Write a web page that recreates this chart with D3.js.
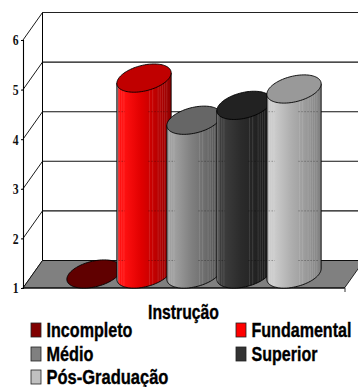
<!DOCTYPE html>
<html>
<head>
<meta charset="utf-8">
<style>
html,body{margin:0;padding:0;background:#fff}
svg{display:block}
</style>
<script src="https://cdn.jsdelivr.net/npm/d3@7"></script>
</head>
<body>
<svg id="chart" width="358" height="387"></svg>
<script>
const categories = ["Incompleto","Fundamental","Médio","Superior","Pós-Graduação"];
const values = [1, 4.95, 4.1, 4.4, 4.73];
const bodyEdge = ["#900000","#ff1010","#a0a0a0","#3c3c3c","#cccccc"];
const bodyMid = ["#700000","#e00000","#808080","#2b2b2b","#aeaeae"];
const bodyDark = ["#400000","#900000","#505050","#181818","#808080"];
const topColors = ["#600000","#c00000","#666666","#222222","#999999"];
const swatches = ["#800000","#ff0000","#808080","#333333","#c0c0c0"];
const ticks = [1,2,3,4,5,6];
const legendWidths = [86,100,47,66,122];
const stripOffsets = [.05,.09,.13,.6,.66,.76,.8,.84,.88,.92];

const svg = d3.select("#chart");
const y = d3.scaleLinear().domain([1,6]).range([288,40]);
const x = d3.scaleBand().domain(categories).range([69,319]);
const depth = {dx:19.5, dy:-27.5};
const right = 364;

// back wall gridlines and the two left edges of the 3D box
ticks.forEach(t=>{
  svg.append("line").attr("x1",23+depth.dx).attr("x2",358)
    .attr("y1",y(t)+depth.dy).attr("y2",y(t)+depth.dy)
    .attr("stroke",t===6?"#222":"#111").attr("stroke-width",1.1);
  svg.append("line").attr("x1",23).attr("x2",23+depth.dx)
    .attr("y1",y(t)).attr("y2",y(t)+depth.dy)
    .attr("stroke","#000").attr("stroke-width",0.9);
});
svg.append("line").attr("x1",23+depth.dx).attr("x2",23+depth.dx)
  .attr("y1",y(6)+depth.dy).attr("y2",y(1)+depth.dy).attr("stroke","#000").attr("stroke-width",1);

// floor
svg.append("path")
  .attr("d",d3.line()([[23,y(1)],[23+depth.dx,y(1)+depth.dy],[right,y(1)+depth.dy],[right-19.5,y(1)]])+"Z")
  .attr("fill","#808080").attr("stroke","#000").attr("stroke-width",0.8);

// value axis with tall, narrow serif numerals
const tickSqueeze = 0.78;
svg.append("g").attr("transform","translate(23,0)")
  .call(d3.axisLeft(y).tickValues(ticks).tickFormat(d3.format("d")).tickSize(2))
  .call(g=>g.select(".domain").attr("stroke","#000").attr("stroke-width",1.1))
  .call(g=>g.selectAll("text")
     .attr("x",-4.5/tickSqueeze)
     .attr("transform",`scale(${tickSqueeze},1)`)
     .attr("font-family","'Liberation Serif'").attr("font-weight","bold")
     .attr("font-size",15).attr("fill","#111"));
svg.append("line").attr("x1",23).attr("x2",345).attr("y1",y(1)).attr("y2",y(1))
  .attr("stroke","#000").attr("stroke-width",1.2);
svg.append("line").attr("x1",345).attr("x2",345).attr("y1",y(1)).attr("y2",y(1)+4)
  .attr("stroke","#333").attr("stroke-width",1);

// one horizontal gradient per series: rim, lit side, mid tone, shaded side
const defs = svg.append("defs");
categories.forEach((c,i)=>{
  const g = defs.append("linearGradient").attr("id","shade"+i);
  [[0,"#999"],[.02,"#999"],[.035,bodyEdge[i]],[.14,bodyEdge[i]],[.45,bodyMid[i]],[.7,d3.interpolateRgb(bodyMid[i],bodyDark[i])(.4)],[1,bodyDark[i]]]
    .forEach(([o,col])=>g.append("stop").attr("offset",o).attr("stop-color",col));
});

// cylinders; the end caps are ellipses tilted along the floor's slant
const rx = 27.8, ry = 12.8, tilt = -14;
const cx = c => x(c)+x.bandwidth()/2;
const capPoints = (px,py) => d3.range(0,96).map(k=>{
  const t = k/96*2*Math.PI, a = tilt*Math.PI/180;
  return [px+rx*Math.cos(t)*Math.cos(a)-ry*Math.sin(t)*Math.sin(a),
          py+rx*Math.cos(t)*Math.sin(a)+ry*Math.sin(t)*Math.cos(a)];
});
const capOffset = 14;
categories.forEach((c,i)=>{
  const px = cx(c);
  const base = y(1)-capOffset;
  const top = y(values[i])-capOffset;
  const topCap = capPoints(px,top);
  if(values[i]>1){
    // silhouette: left tangent, front arc of the base cap, right tangent
    const baseCap = capPoints(px,base);
    const iMax = d3.maxIndex(baseCap,p=>p[0]);
    const iMin = d3.minIndex(baseCap,p=>p[0]);
    const arc = [];
    for(let k=iMax;k!==iMin;k=(k+1)%96) arc.push(baseCap[k]);
    arc.push(baseCap[iMin]);
    const tMax = topCap[d3.maxIndex(topCap,p=>p[0])];
    const tMin = topCap[d3.minIndex(topCap,p=>p[0])];
    const outline = d3.line()([tMax,...arc,tMin])+"Z";
    const clipId = "body"+i;
    defs.append("clipPath").attr("id",clipId).append("path").attr("d",outline);
    svg.append("path").attr("d",outline).attr("fill",`url(#shade${i})`);
    const left = tMin[0], width = tMax[0]-tMin[0];
    // faint vertical facets of the rendered cylinder
    const strips = svg.append("g").attr("clip-path",`url(#${clipId})`);
    stripOffsets.forEach(o=>{
      strips.append("line").attr("x1",left+o*width).attr("x2",left+o*width)
        .attr("y1",top).attr("y2",base+16)
        .attr("stroke","#fff").attr("stroke-opacity",.12).attr("stroke-width",1);
    });
    // gridlines showing faintly through the facets
    ticks.filter(t=>y(t)+depth.dy>top+10).forEach(t=>{
      [[.03,.15],[.58,.94]].forEach(([a,b])=>{
        strips.append("line").attr("x1",left+a*width).attr("x2",left+b*width)
          .attr("y1",y(t)+depth.dy).attr("y2",y(t)+depth.dy)
          .attr("stroke","#000").attr("stroke-opacity",.3).attr("stroke-dasharray","1.5 1.5");
      });
    });
    svg.append("path").attr("d",outline).attr("fill","none").attr("stroke","#000").attr("stroke-width",0.9);
  }
  svg.append("path").attr("d",d3.line()(topCap)+"Z")
    .attr("fill",topColors[i]).attr("stroke","#000").attr("stroke-width",0.9);
});

// condensed bold label: fitted to a given width by squeezing the glyphs
function fittedText(px,py,width,label){
  const t = svg.append("text")
    .attr("font-family","'Liberation Sans'").attr("font-weight","bold")
    .attr("font-size",20).attr("fill","#000")
    .attr("stroke","#000").attr("stroke-width",0.35)
    .text(label);
  const k = width/t.node().getComputedTextLength();
  t.attr("transform",`translate(${px},${py}) scale(${k},1)`);
}

// axis title
fittedText(148,319,71,"Instrução");

// legend in two columns
const legendX = [31,236], legendY = [323,347,370];
categories.forEach((c,i)=>{
  const lx = legendX[i%2], ly = legendY[Math.floor(i/2)];
  svg.append("rect").attr("x",lx).attr("y",ly).attr("width",10).attr("height",14)
    .attr("fill",swatches[i]).attr("stroke","#222").attr("stroke-width",0.8);
  fittedText(lx+15.5,ly+14,legendWidths[i],c);
});
</script>
</body>
</html>
